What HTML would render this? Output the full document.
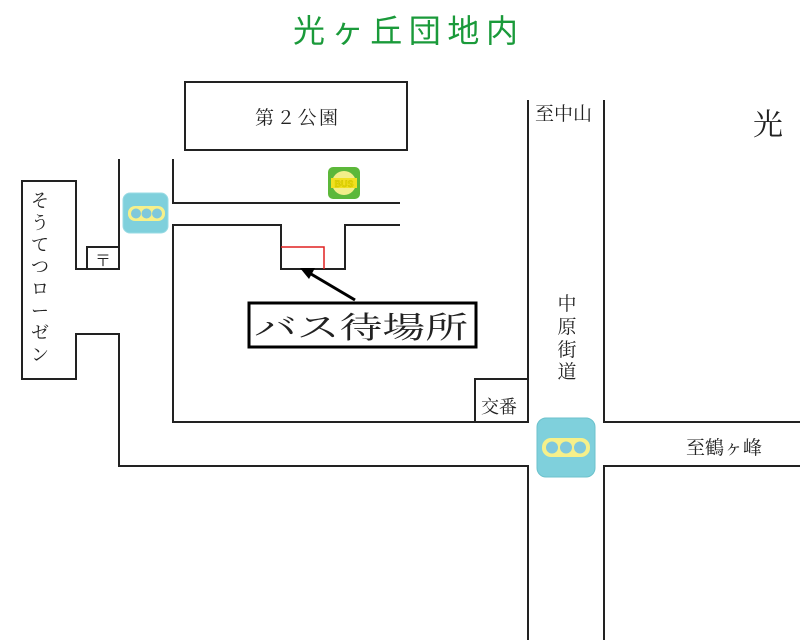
<!DOCTYPE html>
<html><head><meta charset="utf-8"><style>html,body{margin:0;padding:0;background:#fff}svg{display:block}</style></head><body>
<svg width="800" height="640" viewBox="0 0 800 640" xmlns="http://www.w3.org/2000/svg" font-family="'Liberation Serif','Noto Serif CJK SC','Noto Sans CJK JP',serif">
<text x="293" y="42" font-size="32" fill="#1a9a3a" textLength="225" font-family="'Liberation Sans','Noto Sans CJK JP',sans-serif">光ヶ丘団地内</text>
<g fill="none" stroke="#222" stroke-width="2">
<rect x="185" y="82" width="222" height="68"/>
<polyline points="119,159 119,269 76,269 76,181 22,181 22,379 76,379 76,334 119,334 119,466 528,466 528,640"/>
<rect x="87" y="247" width="32" height="22"/>
<polyline points="173,159 173,203 400,203"/>
<polyline points="400,225 345,225 345,269 281,269 281,225 173,225 173,422 528,422 528,100"/>
<rect x="475" y="379" width="53" height="43"/>
<polyline points="604,100 604,422 800,422"/>
<polyline points="800,466 604,466 604,640"/>
</g>
<polyline points="281,247 324,247 324,269" fill="none" stroke="#e02020" stroke-width="1.5"/>
<line x1="355" y1="300" x2="306" y2="271" stroke="#000" stroke-width="3"/>
<polygon points="300,268 315,268 309,279" fill="#000"/>
<rect x="249" y="303" width="227" height="44" fill="#fff" stroke="#000" stroke-width="3"/>
<text x="254" y="338" font-size="30" textLength="214" lengthAdjust="spacingAndGlyphs" fill="#222">バス待場所</text>
<text x="255" y="124" font-size="19" textLength="83" fill="#222">第２公園</text>
<text x="95" y="266" font-size="16" fill="#222">〒</text>
<g font-size="18" fill="#222" text-anchor="middle">
<text x="40" y="207">そ</text><text x="40" y="229">う</text><text x="40" y="251">て</text><text x="40" y="273">つ</text><text x="40" y="295">ロ</text><text x="40" y="317">ー</text><text x="40" y="339">ゼ</text><text x="40" y="361">ン</text>
</g>
<g font-size="19" fill="#222" text-anchor="middle">
<text x="567" y="310">中</text><text x="567" y="333">原</text><text x="567" y="356">街</text><text x="567" y="378">道</text>
</g>
<text x="535" y="120" font-size="19" fill="#222">至中山</text>
<text x="753" y="135" font-size="30" fill="#222">光</text>
<text x="686" y="454" font-size="19" fill="#222">至鶴ヶ峰</text>
<text x="481" y="413" font-size="18" fill="#222">交番</text>
<rect x="123" y="193" width="45" height="40" rx="7" fill="#7fd0dc" stroke="#9adbe4"/>
<rect x="128" y="206" width="37" height="15" rx="7" fill="#f6f08a"/>
<circle cx="136" cy="213.5" r="5" fill="#7fc8dc"/><circle cx="146.5" cy="213.5" r="5" fill="#7fc8dc"/><circle cx="157" cy="213.5" r="5" fill="#7fc8dc"/>
<rect x="537" y="418" width="58" height="59" rx="9" fill="#7fd0dc" stroke="#6cc2cc"/>
<rect x="542" y="438" width="48" height="19" rx="9" fill="#f6f08a"/>
<circle cx="552" cy="447.5" r="6" fill="#7fc8dc"/><circle cx="566" cy="447.5" r="6" fill="#7fc8dc"/><circle cx="580" cy="447.5" r="6" fill="#7fc8dc"/>
<rect x="328" y="167" width="32" height="32" rx="5" fill="#5cb83a"/>
<circle cx="344" cy="183" r="12" fill="#f2ee8a"/>
<rect x="331" y="178" width="26" height="10" fill="#f2e020"/>
<text x="344" y="187" font-size="9" font-weight="bold" fill="#e8e000" stroke="#c8b800" stroke-width="0.4" text-anchor="middle" font-family="'Liberation Sans',sans-serif">BUS</text>
</svg>
</body></html>
